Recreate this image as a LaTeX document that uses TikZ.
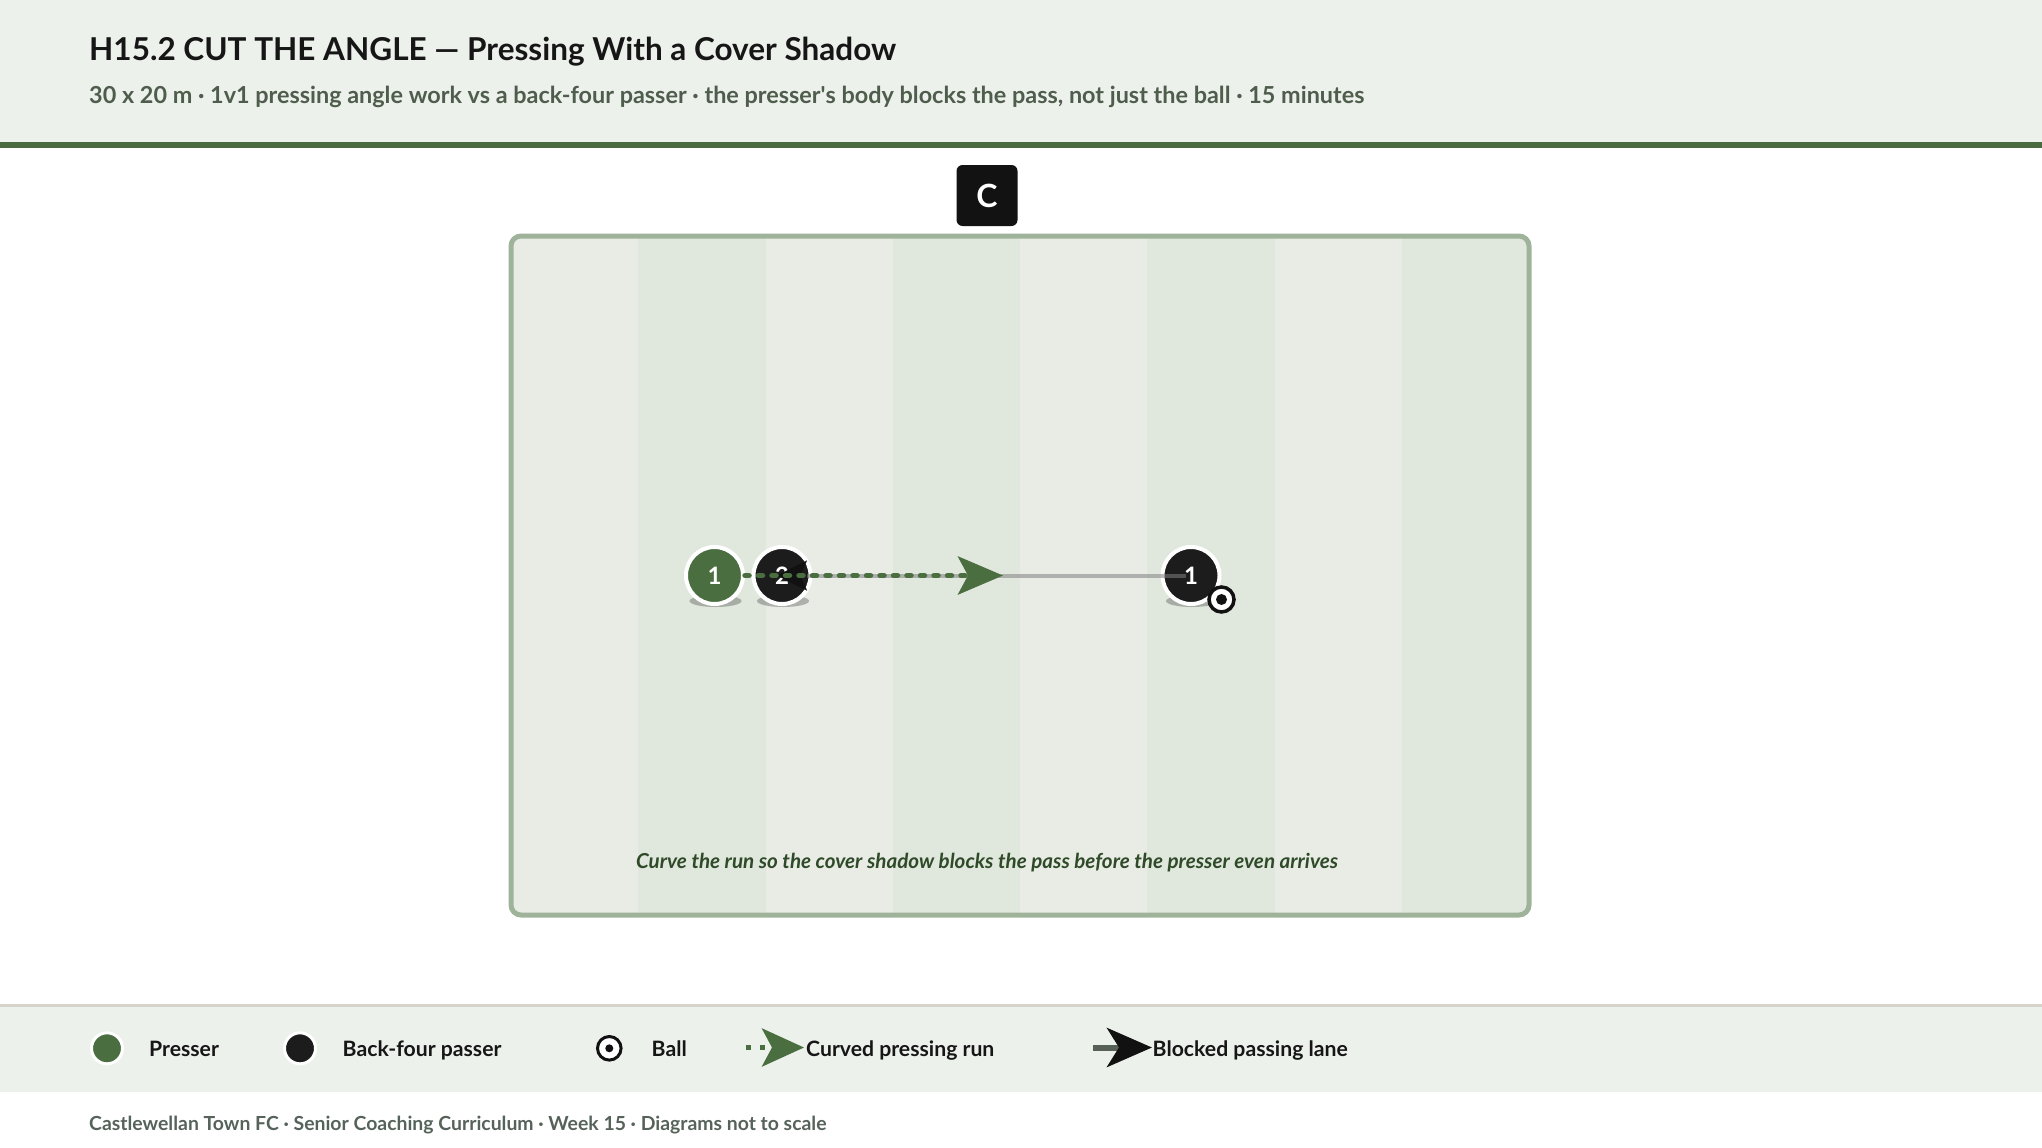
\documentclass[tikz,border=0pt]{standalone}
\usepackage{fontspec}
\setmainfont{Lato}
\usetikzlibrary{arrows.meta}
\definecolor{headbg}{HTML}{EDF1EC}
\definecolor{headline}{HTML}{4A6B3F}
\definecolor{titleink}{HTML}{161616}
\definecolor{subink}{HTML}{4F5D4C}
\definecolor{tagblack}{HTML}{121212}
\definecolor{stripelight}{HTML}{E8ECE5}
\definecolor{stripedark}{HTML}{E0E7DD}
\definecolor{pitchline}{HTML}{9FB39B}
\definecolor{presgreen}{HTML}{4A6E3F}
\definecolor{passblack}{HTML}{1C1C1C}
\definecolor{ballblack}{HTML}{111111}
\definecolor{captionink}{HTML}{2F4A28}
\definecolor{legendrule}{HTML}{D6D3CA}
\definecolor{footink}{HTML}{56635A}
\definecolor{keylanegray}{HTML}{566057}
\tikzset{
  presser/.style={circle,fill=presgreen,draw=white,line width=4pt,minimum size=57pt,inner sep=0pt,
    text=white,font=\bfseries\fontsize{24}{24}\selectfont},
  passer/.style={presser,fill=passblack},
  ball/.style={circle,fill=white,draw=ballblack,line width=3.5pt,minimum size=25pt,inner sep=0pt,
    path picture={\fill[ballblack] (path picture bounding box.center) circle (5.5pt);}},
  shadow/.style={fill=black,opacity=0.25},
  run/.style={draw=presgreen,line width=5.5pt,line cap=round,dash pattern=on 4pt off 9.5pt,
    -{Stealth[length=45pt,width=38pt,inset=10pt,color=presgreen,fill=presgreen]}},
  lane/.style={draw=gray,draw opacity=0.55,line width=4pt},
  lanetip/.style={draw=ballblack,line width=0.1pt,-{Stealth[length=30pt,width=30pt,inset=7pt,color=ballblack,fill=ballblack]}},
  keypresser/.style={circle,fill=presgreen,draw=white,line width=3pt,minimum size=31pt,inner sep=0pt},
  keypasser/.style={keypresser,fill=passblack},
  keyball/.style={circle,fill=white,draw=ballblack,line width=3pt,minimum size=23.6pt,inner sep=0pt,
    path picture={\fill[ballblack] (path picture bounding box.center) circle (4pt);}},
  keyrun/.style={draw=presgreen,line width=5pt,dash pattern=on 5pt off 9pt,
    -{Stealth[length=42pt,width=38pt,inset=10pt,color=presgreen,fill=presgreen]}},
  keylane/.style={draw=keylanegray,line width=6pt,
    -{Stealth[length=45pt,width=39pt,inset=12pt,color=ballblack,fill=ballblack]}},
  keytext/.style={anchor=base west,inner sep=0pt,text=titleink,font=\bfseries\fontsize{21.2}{26}\selectfont}
}
\begin{document}
\begin{tikzpicture}[x=1pt,y=-1pt]
\useasboundingbox (0,0) rectangle (2042,1148);
\fill[headbg] (0,0) rectangle (2042,142);
\fill[headline] (0,142) rectangle (2042,148);
\node[anchor=base west,inner sep=0pt,text=titleink,font=\bfseries\fontsize{31.5}{38}\selectfont] (title) at (89,60)
  {H15.2 CUT THE ANGLE — Pressing With a Cover Shadow};
\node[anchor=base west,inner sep=0pt,text=subink,font=\bfseries\fontsize{23.4}{28}\selectfont] (subtitle) at (89,103.5)
  {30 x 20 m · 1v1 pressing angle work vs a back-four passer · the presser\textquotesingle s body blocks the pass, not just the ball · 15 minutes};
\node[fill=tagblack,text=white,rounded corners=6pt,minimum size=61pt,inner sep=0pt,
  font=\bfseries\fontsize{32}{32}\selectfont] (tag) at (987,195.5) {C};
\begin{scope}
\clip[rounded corners=10pt] (511,236) rectangle (1529,915);
\fill[stripelight] (511,236) rectangle (1529,915);
\foreach \i in {1,3,5,7}
  \fill[stripedark] ({511+127.25*\i},236) rectangle ({511+127.25*(\i+1)},915);
\end{scope}
\draw[pitchline,line width=5pt,rounded corners=10pt] (511,236) rectangle (1529,915);
\node[anchor=base,inner sep=0pt,text=captionink,font=\bfseries\itshape\fontsize{20.6}{24}\selectfont] (note) at (987,868)
  {Curve the run so the cover shadow blocks the pass before the presser even arrives};
\fill[shadow] (715.5,601) ellipse (26 and 6);
\fill[shadow] (783,601) ellipse (26 and 6);
\fill[shadow] (1192,601) ellipse (26 and 6);
\node[presser] (p1) at (714.5,575.5) {1};
\node[passer] (d2) at (782,575.5) {2};
\node[passer] (o1) at (1191,575.5) {1};
\node[ball] (b) at (1221.5,599.5) {};
\coordinate (runend) at (1003,575.5);
\draw[lane] ([xshift=-5pt]o1.center) -- ([xshift=25pt]d2.center);
\draw[lanetip] ([xshift=25pt]d2.center) -- ([xshift=-5pt]d2.center);
\draw[run] (p1) -- (runend);
\fill[headbg] (0,1007) rectangle (2042,1092);
\fill[legendrule] (0,1004) rectangle (2042,1007);
\node[keypresser] (kp) at (107,1048.3) {};
\node[keytext] (kpt) at (149,1056.7) {Presser};
\node[keypasser] (kd) at (300,1048.3) {};
\node[keytext] (kdt) at (342.5,1056.7) {Back-four passer};
\node[keyball] (kb) at (609.3,1048.3) {};
\node[keytext] (kbt) at (651.5,1056.7) {Ball};
\coordinate (kr1) at (746,1047.5);
\coordinate (kr2) at (804,1047.5);
\draw[keyrun] (kr1) -- (kr2);
\node[keytext] (krt) at (806,1056.7) {Curved pressing run};
\coordinate (kl1) at (1093,1047.5);
\coordinate (kl2) at (1152,1047.5);
\draw[keylane] (kl1) -- (kl2);
\node[keytext] (klt) at (1152.5,1056.7) {Blocked passing lane};
\node[anchor=base west,inner sep=0pt,text=footink,font=\bfseries\fontsize{19.4}{24}\selectfont] (foot) at (89,1130)
  {Castlewellan Town FC · Senior Coaching Curriculum · Week 15 · Diagrams not to scale};
\end{tikzpicture}
\end{document}
